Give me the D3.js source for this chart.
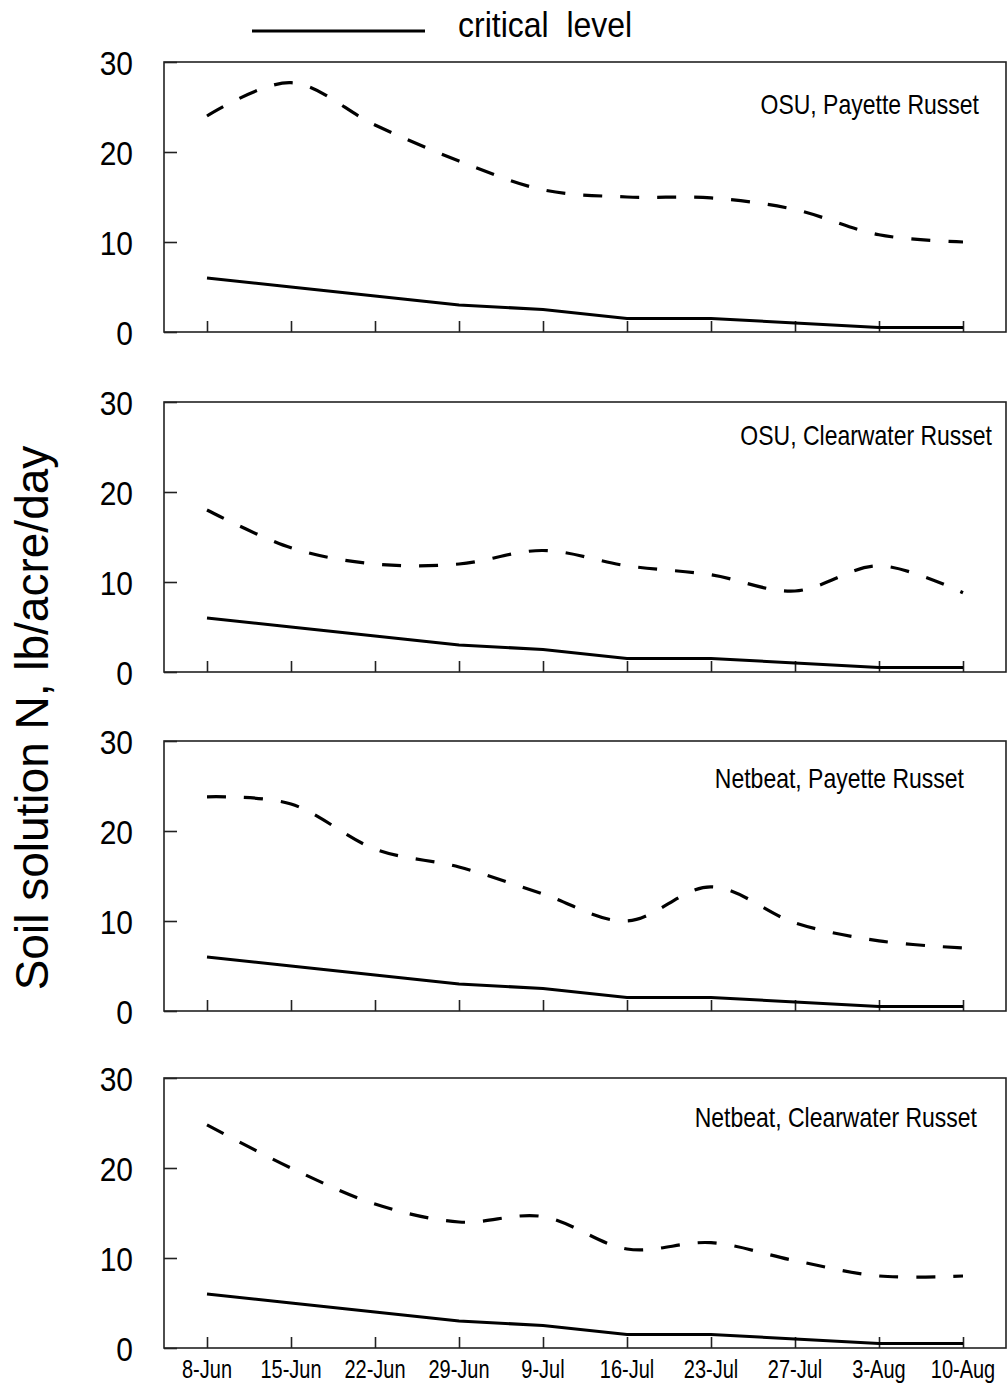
<!DOCTYPE html>
<html>
<head>
<meta charset="utf-8">
<script src="https://cdn.jsdelivr.net/npm/d3@7"></script>
<style>
  html, body { margin: 0; padding: 0; background: #fff; }
  svg { display: block; }
  text { font-family: "Liberation Sans", Arial, sans-serif; fill: #000; }
</style>
</head>
<body>
<div id="chart"></div>
<script>
// ---- data ----
const dates = ["8-Jun", "15-Jun", "22-Jun", "29-Jun", "9-Jul", "16-Jul", "23-Jul", "27-Jul", "3-Aug", "10-Aug"];
const panelTitles = ["OSU, Payette Russet", "OSU, Clearwater Russet", "Netbeat, Payette Russet", "Netbeat, Clearwater Russet"];
const criticalLevel = [6, 5, 4, 3, 2.5, 1.5, 1.5, 1, 0.5, 0.5];
const osuPayette = [24, 27.7, 23, 19, 15.8, 15, 14.9, 13.6, 10.8, 10];
const osuClearwater = [18, 13.8, 12, 12, 13.5, 11.8, 10.8, 9, 11.8, 8.8];
const netbeatPayette = [23.8, 23, 18, 16, 13, 10, 13.8, 9.8, 7.8, 7];
const netbeatClearwater = [24.8, 20, 16, 14, 14.6, 11, 11.7, 9.7, 8, 8];
const yTicks = [0, 10, 20, 30];
const legendLabel = "critical  level";
const yAxisLabel = "Soil solution N, lb/acre/day";

const measured = [osuPayette, osuClearwater, netbeatPayette, netbeatClearwater];

// ---- layout ----
const W = 1008, H = 1391;
const plotLeft = 164, plotRight = 1006;
const panelTops = [62, 402, 741, 1078];
const panelH = 270;
const titleAnchor = [[979, 52], [992, 43], [964, 47], [977, 49]]; // right x, baseline offset from top
const stretch = 1.18; // text in the reference is vertically stretched

const svg = d3.select("#chart").append("svg").attr("width", W).attr("height", H);

function addText(parent, x0, y0, str, size, anchor, sy) {
  return parent.append("text")
    .attr("transform", `translate(${x0},${y0}) scale(1,${sy || stretch})`)
    .attr("text-anchor", anchor || "start")
    .attr("font-size", size)
    .text(str);
}

const x = d3.scalePoint().domain(dates).range([207, 963]);

// legend
svg.append("line").attr("x1", 252).attr("x2", 425).attr("y1", 31).attr("y2", 31)
  .attr("stroke", "#000").attr("stroke-width", 3);
addText(svg, 458, 37, legendLabel, 32, "start", 1.1).style("white-space", "pre");

// y axis label
svg.append("text")
  .attr("transform", "translate(48,718) rotate(-90)")
  .attr("text-anchor", "middle")
  .attr("font-size", 46)
  .text(yAxisLabel);

panelTops.forEach((top, i) => {
  const bottom = top + panelH;
  const y = d3.scaleLinear().domain([0, 30]).range([bottom, top]);
  const g = svg.append("g");

  // frame
  g.append("rect").attr("x", plotLeft).attr("y", top)
    .attr("width", plotRight - plotLeft).attr("height", panelH)
    .attr("fill", "none").attr("stroke", "#222").attr("stroke-width", 1.6);

  // y axis (inward ticks)
  const yAx = g.append("g").attr("transform", `translate(${plotLeft},0)`)
    .call(d3.axisRight(y).tickValues(yTicks).tickSize(13).tickFormat(""));
  yAx.select(".domain").remove();
  yAx.selectAll("line").attr("stroke", "#222").attr("stroke-width", 1.6);
  yTicks.forEach(d => addText(g, 133, y(d) + 13, d, 30, "end", 1.12));

  // x axis (inward ticks)
  const xAx = g.append("g").attr("transform", `translate(0,${bottom})`)
    .call(d3.axisTop(x).tickSize(11).tickFormat(""));
  xAx.select(".domain").remove();
  xAx.selectAll("line").attr("stroke", "#222").attr("stroke-width", 1.6);

  // critical line
  const lineLin = d3.line().x((d, k) => x(dates[k])).y(d => y(d)).curve(d3.curveLinear);
  g.append("path").attr("d", lineLin(criticalLevel))
    .attr("fill", "none").attr("stroke", "#000").attr("stroke-width", 3);

  // measured (dashed smoothed)
  const lineSm = d3.line().x((d, k) => x(dates[k])).y(d => y(d)).curve(d3.curveCardinal.tension(0));
  g.append("path").attr("d", lineSm(measured[i]))
    .attr("fill", "none").attr("stroke", "#000").attr("stroke-width", 3.2)
    .attr("stroke-dasharray", "19,18");

  // title
  addText(g, titleAnchor[i][0], top + titleAnchor[i][1], panelTitles[i], 23, "end");

  // x labels on last panel
  if (i === panelTops.length - 1) {
    dates.forEach(d => addText(g, x(d), bottom + 30, d, 20, "middle", 1.25));
  }
});
</script>
</body>
</html>
